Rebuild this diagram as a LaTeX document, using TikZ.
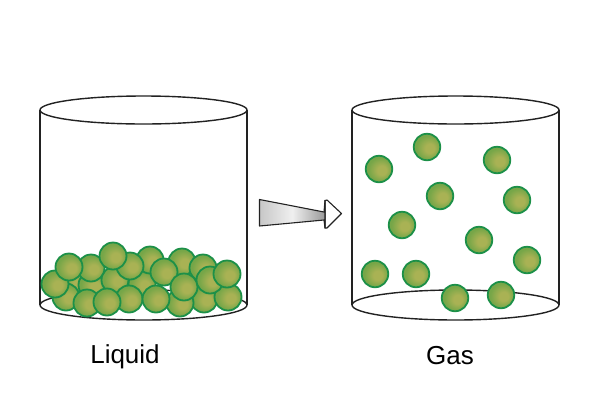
\documentclass[tikz,border=0pt]{standalone}
\usepackage{fontspec}
\setmainfont{Liberation Sans}
\definecolor{ballin}{HTML}{A9B254}
\definecolor{ballout}{HTML}{76A648}
\definecolor{ballrim}{HTML}{1C9048}
\definecolor{cyl}{HTML}{222222}
\pgfdeclareradialshading{ballshade}{\pgfpoint{0.25cm}{-0.12cm}}{color(0cm)=(ballin);color(0.3cm)=(ballin);color(0.8cm)=(ballout);color(1.2cm)=(ballout)}
\tikzset{
 ball/.style={circle,draw=ballrim,line width=1.8pt,minimum size=27pt,inner sep=0pt,shading=ballshade},
 smallball/.style={ball,minimum size=26.5pt},
 cylline/.style={draw=cyl,line width=1.4pt},
 lab/.style={font=\fontsize{26}{30}\selectfont,text=black,inner sep=0pt}
}
\begin{document}
\begin{tikzpicture}[x=1pt,y=-1pt]
\useasboundingbox (0,0) rectangle (600,400);
% left cylinder
\draw[cylline] (143.5,305) ellipse [x radius=103.5,y radius=15];
\draw[cylline] (40,110) -- (40,305);
\draw[cylline] (247,110) -- (247,305);
\draw[cylline,fill=white] (143.5,110) ellipse [x radius=103.5,y radius=14];
% right cylinder
\draw[cylline] (455.5,305) ellipse [x radius=103.5,y radius=15];
\draw[cylline] (352,110) -- (352,305);
\draw[cylline] (559,110) -- (559,305);
\draw[cylline,fill=white] (455.5,110) ellipse [x radius=103.5,y radius=14];
% liquid
\foreach \i/\x/\y in {1/75/283,2/92/285,3/115/280,4/142/284,
 5/150/260,6/182/262,7/203/268,8/91/268,9/130/266,
 10/66/297,11/87/303,12/129/299,13/107/302,14/204/299,15/228/297,16/180/303,17/156/299,
 18/55/284,19/69/267,20/113/256,21/164/272,22/184/287,23/210/280,24/227/274}
 \node[ball] (l\i) at (\x,\y) {};
% gas
\foreach \i/\x/\y in {1/379/169,2/427/147,3/497/160,4/440/196,5/517/200,6/402/225,7/479/240,8/527/260,9/375/274,10/416/274,11/455/298,12/501/295}
 \node[smallball] (g\i) at (\x,\y) {};
% arrow
\draw[line width=1.1pt,draw=cyl,line join=round,fill=white]
 (325,200.5) -- (327,200) -- (341.5,213.5) -- (327,228) -- (325,228) -- cycle;
\draw[line width=1.1pt,draw=cyl,line join=round,left color=black!22,right color=black!40,middle color=black!6]
 (259.5,199.5) -- (324,212) -- (325,200.5) -- (325,228) -- (324,220) -- (259.5,226) -- cycle;
\node[lab] (liq) at (125,356.5) {Liquid};
\node[lab] (gas) at (450,355.5) {Gas};
\end{tikzpicture}
\end{document}
